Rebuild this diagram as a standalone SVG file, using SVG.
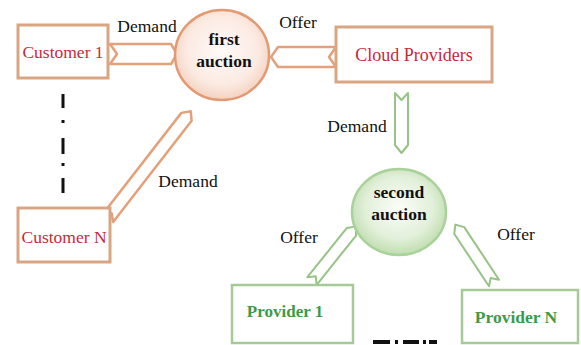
<svg xmlns="http://www.w3.org/2000/svg" width="581" height="345" viewBox="0 0 581 345" font-family="'Liberation Serif', 'Times New Roman', Times, serif">
<defs>
<radialGradient id="gOrange" cx="50%" cy="45%" r="55%">
<stop offset="0" stop-color="#FFFAF8"/>
<stop offset="0.7" stop-color="#FBEAE2"/>
<stop offset="1" stop-color="#F3D2C0"/>
</radialGradient>
<radialGradient id="gGreen" cx="50%" cy="45%" r="55%">
<stop offset="0" stop-color="#FAFDF8"/>
<stop offset="0.65" stop-color="#E2F0DA"/>
<stop offset="1" stop-color="#BFDDAE"/>
</radialGradient>
<style>
.box-o{fill:#FFFFFF;stroke:#D9A583;stroke-width:3}
.box-g{fill:#FFFFFF;stroke:#A6C998;stroke-width:2.5}
.arr-o{fill:#FFFFFF;stroke:#E3A07A;stroke-width:2.5;stroke-linejoin:round}
.arr-g{fill:#FFFFFF;stroke:#97C386;stroke-width:2;stroke-linejoin:round}
text{font-family:'Liberation Serif','Times New Roman',Times,serif;font-size:17.5px}
.lbl{fill:#111111}
.red{fill:#C42A3C}
.grn{font-weight:bold;fill:#3E9A47}
.auc{font-weight:bold;fill:#111111}
.dd{fill:#111111}
</style>
</defs>
<rect width="581" height="345" fill="#FFFFFF"/>

<g id="connectors">
<polygon class="arr-o" points="110,44 171,44 177,54 171,64 110,64 117,54"/>
<polygon class="arr-o" points="336,47 278,47 271,57 278,67 336,67 329,57"/>
<polygon class="arr-o" transform="translate(108,218) rotate(-52.2)" points="0,-6.5 128,-6.5 135,0 128,6.5 0,6.5 6,0"/>
<polygon class="arr-g" points="395,93 401.5,100 408,93 408,145 401.5,153 395,145"/>
<polygon class="arr-g" transform="translate(312,281) rotate(-51.3)" points="0,-6 63,-6 70,0 63,6 0,6 6,0"/>
<polygon class="arr-g" transform="translate(494,283) rotate(-123.5)" points="0,-6 63,-6 70,0 63,6 0,6 6,0"/>
</g>

<g id="labels">
<text class="lbl" x="147" y="32" text-anchor="middle">Demand</text>
<text class="lbl" x="298" y="28" text-anchor="middle">Offer</text>
<text class="lbl" x="188" y="187" text-anchor="middle">Demand</text>
<text class="lbl" x="357" y="132" text-anchor="middle">Demand</text>
<text class="lbl" x="299" y="243" text-anchor="middle">Offer</text>
<text class="lbl" x="516" y="240" text-anchor="middle">Offer</text>
</g>

<g id="dashes">
<rect class="dd" x="61.5" y="94" width="3" height="14"/>
<rect class="dd" x="61.5" y="120" width="3" height="3"/>
<rect class="dd" x="61.5" y="138" width="3" height="16"/>
<rect class="dd" x="61.5" y="163" width="3" height="3"/>
<rect class="dd" x="61.5" y="178" width="3" height="15"/>
<rect class="dd" x="373" y="340" width="17" height="4"/>
<rect class="dd" x="395" y="340" width="3" height="4"/>
<rect class="dd" x="403" y="340" width="16" height="4"/>
<rect class="dd" x="423" y="340" width="3" height="4"/>
<rect class="dd" x="429" y="340" width="8" height="4"/>
</g>

<g id="customer1">
<rect class="box-o" x="18" y="25" width="90" height="53"/>
<text class="red" x="63" y="58" text-anchor="middle">Customer 1</text>
</g>

<g id="customerN">
<rect class="box-o" x="18" y="208" width="92" height="54"/>
<text class="red" x="64" y="243" text-anchor="middle">Customer N</text>
</g>

<g id="cloudProviders">
<rect class="box-o" x="336" y="27" width="156" height="55"/>
<text class="red" x="414" y="61" text-anchor="middle" style="font-size:18px">Cloud Providers</text>
</g>

<g id="firstAuction">
<ellipse cx="222" cy="55" rx="47" ry="45" fill="url(#gOrange)" stroke="#E39A72" stroke-width="2.5"/>
<text class="auc" x="224" y="45" text-anchor="middle">first</text>
<text class="auc" x="224" y="67" text-anchor="middle">auction</text>
</g>

<g id="secondAuction">
<ellipse cx="399" cy="212" rx="47" ry="43" fill="url(#gGreen)" stroke="#A9D29A" stroke-width="2.5"/>
<text class="auc" x="399" y="198" text-anchor="middle">second</text>
<text class="auc" x="399" y="220" text-anchor="middle">auction</text>
</g>

<g id="provider1">
<rect class="box-g" x="232" y="285" width="121" height="58"/>
<text class="grn" x="285" y="317" text-anchor="middle" style="font-size:17px">Provider 1</text>
</g>

<g id="providerN">
<rect class="box-g" x="462" y="290" width="116" height="53"/>
<text class="grn" x="516" y="323" text-anchor="middle">Provider N</text>
</g>
</svg>
